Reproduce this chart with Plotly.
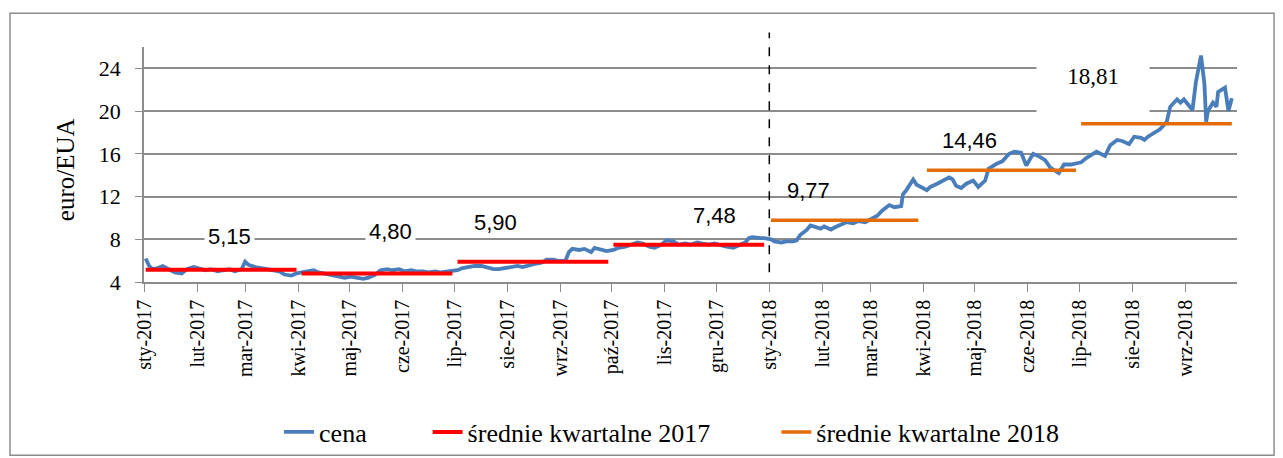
import plotly.graph_objects as go

# ---------------- data ----------------
price_dates = [
    # Q1 2017
    "2017-01-02", "2017-01-04", "2017-01-06", "2017-01-09", "2017-01-12", "2017-01-16", "2017-01-19",
    "2017-01-23", "2017-01-26", "2017-01-30", "2017-02-02", "2017-02-06", "2017-02-09", "2017-02-13",
    "2017-02-16", "2017-02-20", "2017-02-23", "2017-02-27", "2017-03-01", "2017-03-03", "2017-03-07",
    "2017-03-10", "2017-03-14", "2017-03-17", "2017-03-21", "2017-03-24", "2017-03-28", "2017-03-31",
    # Q2 2017
    "2017-04-03", "2017-04-06", "2017-04-10", "2017-04-13", "2017-04-18", "2017-04-21", "2017-04-25",
    "2017-04-28", "2017-05-02", "2017-05-05", "2017-05-09", "2017-05-12", "2017-05-16", "2017-05-19",
    "2017-05-23", "2017-05-26", "2017-05-30", "2017-06-02", "2017-06-06", "2017-06-09", "2017-06-13",
    "2017-06-16", "2017-06-20", "2017-06-23", "2017-06-27", "2017-06-30",
    # Q3 2017
    "2017-07-03", "2017-07-06", "2017-07-10", "2017-07-13", "2017-07-17", "2017-07-20", "2017-07-24",
    "2017-07-27", "2017-07-31", "2017-08-03", "2017-08-07", "2017-08-10", "2017-08-14", "2017-08-17",
    "2017-08-21", "2017-08-24", "2017-08-28", "2017-08-31", "2017-09-04", "2017-09-06", "2017-09-08",
    "2017-09-12", "2017-09-15", "2017-09-19", "2017-09-21", "2017-09-25", "2017-09-28",
    # Q4 2017
    "2017-10-02", "2017-10-05", "2017-10-09", "2017-10-12", "2017-10-16", "2017-10-19", "2017-10-23",
    "2017-10-26", "2017-10-30", "2017-11-02", "2017-11-06", "2017-11-09", "2017-11-13", "2017-11-16",
    "2017-11-20", "2017-11-23", "2017-11-27", "2017-11-30", "2017-12-04", "2017-12-07", "2017-12-11",
    "2017-12-14", "2017-12-18", "2017-12-20", "2017-12-22", "2017-12-27", "2017-12-29",
    # Q1 2018
    "2018-01-02", "2018-01-04", "2018-01-08", "2018-01-11", "2018-01-15", "2018-01-17", "2018-01-19",
    "2018-01-23", "2018-01-25", "2018-01-29", "2018-01-31", "2018-02-02", "2018-02-06", "2018-02-08",
    "2018-02-12", "2018-02-15", "2018-02-19", "2018-02-22", "2018-02-26", "2018-03-01", "2018-03-05",
    "2018-03-08", "2018-03-12", "2018-03-15", "2018-03-19", "2018-03-20", "2018-03-22", "2018-03-26",
    "2018-03-28",
    # Q2 2018
    "2018-04-03", "2018-04-05", "2018-04-09", "2018-04-12", "2018-04-16", "2018-04-18", "2018-04-20",
    "2018-04-23", "2018-04-26", "2018-04-30", "2018-05-03", "2018-05-07", "2018-05-09", "2018-05-14",
    "2018-05-17", "2018-05-21", "2018-05-24", "2018-05-28", "2018-05-31", "2018-06-04", "2018-06-07",
    "2018-06-11", "2018-06-14", "2018-06-19", "2018-06-22", "2018-06-26", "2018-06-29",
    # Q3 2018
    "2018-07-02", "2018-07-05", "2018-07-09", "2018-07-11", "2018-07-16", "2018-07-19", "2018-07-23",
    "2018-07-26", "2018-07-30", "2018-08-02", "2018-08-06", "2018-08-08", "2018-08-10", "2018-08-14",
    "2018-08-17", "2018-08-21", "2018-08-23", "2018-08-27", "2018-08-29", "2018-08-31", "2018-09-03",
    "2018-09-05", "2018-09-07", "2018-09-10", "2018-09-12", "2018-09-13", "2018-09-14", "2018-09-17",
    "2018-09-19", "2018-09-20", "2018-09-24", "2018-09-26", "2018-09-28",
]
price_values = [
    # Q1 2017
    6.2, 5.5, 5.2, 5.3, 5.5, 5.1, 4.9, 4.8, 5.2, 5.4, 5.3, 5.1, 5.2, 5.0,
    5.1, 5.2, 5.0, 5.2, 5.9, 5.6, 5.4, 5.3, 5.2, 5.1, 5.0, 4.7, 4.6, 4.8,
    # Q2 2017
    4.9, 5.0, 5.1, 4.9, 4.7, 4.6, 4.5, 4.4, 4.5, 4.4, 4.3, 4.4, 4.7, 5.1,
    5.2, 5.1, 5.2, 5.0, 5.1, 5.0, 5.0, 4.9, 5.0, 4.9, 5.0, 5.1,
    # Q3 2017
    5.1, 5.3, 5.4, 5.5, 5.5, 5.4, 5.2, 5.2, 5.3, 5.4, 5.5, 5.4, 5.6, 5.7,
    5.8, 6.1, 6.1, 5.95, 6.0, 6.8, 7.1, 7.0, 7.1, 6.8, 7.2, 7.0, 6.9,
    # Q4 2017
    7.0, 7.2, 7.3, 7.5, 7.7, 7.6, 7.3, 7.2, 7.5, 7.9, 7.8, 7.5, 7.6, 7.5,
    7.7, 7.6, 7.5, 7.6, 7.4, 7.3, 7.2, 7.4, 7.7, 8.1, 8.2, 8.1, 8.1,
    # Q1 2018
    8.0, 7.8, 7.7, 7.8, 7.8, 7.9, 8.4, 8.9, 9.3, 9.1, 9.0, 9.2, 8.9, 9.1,
    9.4, 9.6, 9.5, 9.7, 9.6, 9.9, 10.2, 10.7, 11.2, 11.0, 11.1, 12.2, 12.6, 13.6,
    13.1,
    # Q2 2018
    12.6, 12.9, 13.2, 13.5, 13.8, 13.6, 13.0, 12.8, 13.2, 13.5, 12.9, 13.5, 14.6, 15.1,
    15.3, 16.0, 16.2, 16.1, 14.9, 16.0, 15.8, 15.4, 14.7, 14.2, 15.0, 15.0, 15.1,
    # Q3 2018
    15.2, 15.6, 16.0, 16.2, 15.8, 16.8, 17.3, 17.2, 16.9, 17.6, 17.5, 17.3, 17.6, 18.0,
    18.3, 19.0, 20.4, 21.1, 20.8, 21.1, 20.5, 20.1, 22.7, 25.2, 22.5, 19.0, 20.0, 20.8,
    20.4, 21.8, 22.2, 20.0, 21.2,
]

# quarterly averages
q2017_start = ["2017-01-02", "2017-04-03", "2017-07-03", "2017-10-02"]
q2017_end = ["2017-03-31", "2017-06-30", "2017-09-29", "2017-12-29"]
q2017_avg = [5.15, 4.80, 5.90, 7.48]

q2018_start = ["2018-01-02", "2018-04-03", "2018-07-02"]
q2018_end = ["2018-03-29", "2018-06-29", "2018-09-28"]
q2018_avg = [9.77, 14.46, 18.81]

# label anchors for the average values
label_x = ["2017-02-20", "2017-05-25", "2017-07-25", "2017-11-30", "2018-01-24", "2018-04-28", "2018-07-09"]
label_y = [8.25, 8.77, 9.55, 10.23, 12.57, 17.29, 21.95]

month_ticks = [
    "2017-01-01", "2017-02-01", "2017-03-01", "2017-04-01", "2017-05-01", "2017-06-01",
    "2017-07-01", "2017-08-01", "2017-09-01", "2017-10-01", "2017-11-01", "2017-12-01",
    "2018-01-01", "2018-02-01", "2018-03-01", "2018-04-01", "2018-05-01", "2018-06-01",
    "2018-07-01", "2018-08-01", "2018-09-01",
]
month_labels = [
    "sty-2017", "lut-2017", "mar-2017", "kwi-2017", "maj-2017", "cze-2017",
    "lip-2017", "sie-2017", "wrz-2017", "paź-2017", "lis-2017", "gru-2017",
    "sty-2018", "lut-2018", "mar-2018", "kwi-2018", "maj-2018", "cze-2018",
    "lip-2018", "sie-2018", "wrz-2018",
]
y_ticks = [4, 8, 12, 16, 20, 24]
year_break = "2018-01-01"

# ---------------- figure ----------------
BLUE = "#4A7EBB"
RED = "#FF0000"
ORANGE = "#E36C09"
GRID = "#8C8C8C"
SERIF = "Liberation Serif, Times New Roman, serif"
SANS = "Liberation Sans, Arial, sans-serif"


def segments(starts, ends, vals):
    xs, ys = [], []
    for s, e, v in zip(starts, ends, vals):
        xs += [s, e, None]
        ys += [v, v, None]
    return xs, ys


fig = go.Figure()
fig.add_trace(go.Scatter(x=price_dates, y=price_values, mode="lines", name="cena",
                         line=dict(color=BLUE, width=3.8), legend="legend"))
x17, y17 = segments(q2017_start, q2017_end, q2017_avg)
fig.add_trace(go.Scatter(x=x17, y=y17, mode="lines", name="średnie kwartalne 2017",
                         line=dict(color=RED, width=4), legend="legend2"))
x18, y18 = segments(q2018_start, q2018_end, q2018_avg)
fig.add_trace(go.Scatter(x=x18, y=y18, mode="lines", name="średnie kwartalne 2018",
                         line=dict(color=ORANGE, width=3.5), legend="legend3"))

all_avg = q2017_avg + q2018_avg
for i, (lx, ly, v) in enumerate(zip(label_x, label_y, all_avg)):
    txt = f"{v:.2f}".replace(".", ",")
    if i == 6:
        fig.add_annotation(x=lx, y=ly, text=txt, showarrow=False, xanchor="center", yanchor="middle",
                           font=dict(family=SERIF, size=23, color="black"),
                           bgcolor="white", width=108, height=52, valign="top", borderpad=2)
    else:
        fig.add_annotation(x=lx, y=ly, text=txt, showarrow=False, xanchor="center", yanchor="middle",
                           font=dict(family=SANS, size=22, color="black"),
                           bgcolor="white" if i in (0, 1, 3) else "rgba(0,0,0,0)", borderpad=3)

# y-axis title
fig.add_annotation(xref="paper", yref="paper", x=-0.0723, y=0.48, text="euro/EUA", textangle=-90,
                   showarrow=False, xanchor="center", yanchor="middle",
                   font=dict(family=SERIF, size=25, color="black"))

# dashed vertical line at year break
fig.add_shape(type="line", xref="x", yref="paper", x0=year_break, x1=year_break,
              y0=0.041, y1=1.062, line=dict(color="black", width=1.5, dash="dash"))

# outer chart border
fig.add_shape(type="rect", xref="paper", yref="paper", x0=-0.1226, x1=1.0339, y0=-0.7374, y1=1.1434,
              line=dict(color=GRID, width=1.5), fillcolor="rgba(0,0,0,0)")

leg_common = dict(orientation="h", xref="container", yref="container", y=0.0568, yanchor="middle",
                  xanchor="left", font=dict(family=SERIF, size=26, color="black"),
                  bgcolor="rgba(0,0,0,0)")

fig.update_layout(
    width=1283, height=458,
    margin=dict(l=144, r=46, t=47, b=176, autoexpand=False),
    plot_bgcolor="white", paper_bgcolor="white",
    showlegend=True,
    legend=dict(x=0.2175, **leg_common),
    legend2=dict(x=0.3333, **leg_common),
    legend3=dict(x=0.6051, **leg_common),
    xaxis=dict(type="date", range=["2017-01-01", "2018-10-01"], tickvals=month_ticks, ticktext=month_labels,
               tickangle=-90, ticks="outside", ticklen=8, tickcolor=GRID, tickwidth=1.2,
               showline=True, linecolor=GRID, linewidth=1.5, showgrid=False, zeroline=False,
               tickfont=dict(family=SERIF, size=20, color="black")),
    yaxis=dict(range=[4, 26], tickvals=y_ticks, ticks="outside", ticklen=7, tickcolor=GRID, tickwidth=1.2,
               showline=True, linecolor=GRID, linewidth=1.5, showgrid=True, gridcolor=GRID, gridwidth=1.5,
               zeroline=False, tickfont=dict(family=SERIF, size=22, color="black"),
               ticklabelstandoff=10),
)

fig.write_html("out.html", post_script="document.body.style.margin='0';",
               config={"displayModeBar": False})
